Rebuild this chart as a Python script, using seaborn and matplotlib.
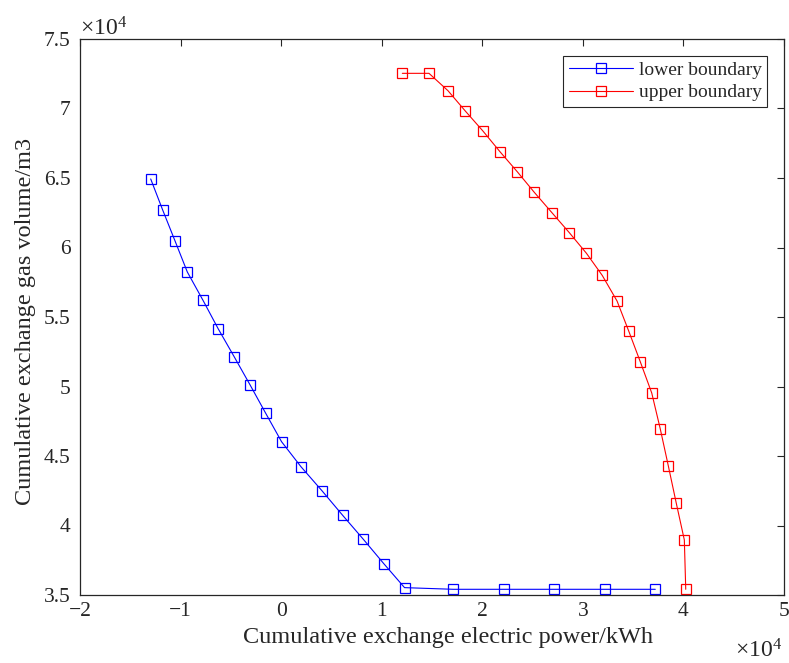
import numpy as np
import pandas as pd
import matplotlib
matplotlib.use("Agg")
import matplotlib.pyplot as plt
import seaborn as sns
from matplotlib.ticker import FuncFormatter, FixedLocator

# ---- data (real units) ----
lower_x = [-12970, -11780, -10550, -9330, -7770, -6250, -4660, -3070, -1540, 40,
           1970, 4060, 6120, 8170, 10200, 12270, 17120, 22160, 27160, 32200, 37200]
lower_y = [64930, 62700, 60470, 58240, 56200, 54140, 52130, 50090, 48080, 46030,
           44230, 42500, 40730, 39010, 37260, 35530, 35410, 35410, 35410, 35410, 35410]
upper_x = [12050, 14700, 16590, 18310, 20040, 21760, 23480, 25170, 26930, 28650,
           30360, 31930, 33400, 34560, 35710, 36850, 37700, 38500, 39290, 40090, 40230]
upper_y = [72530, 72530, 71280, 69820, 68400, 66890, 65450, 63970, 62500, 61070,
           59580, 57990, 56150, 53990, 51780, 49530, 46940, 44280, 41600, 38960, 35410]
series_names = ["lower boundary", "upper boundary"]
x_ticks = [-20000, -10000, 0, 10000, 20000, 30000, 40000, 50000]
y_ticks = [35000, 40000, 45000, 50000, 55000, 60000, 65000, 70000, 75000]
x_label = "Cumulative exchange electric power/kWh"
y_label = "Cumulative exchange gas volume/m3"

sns.set_theme(style="white")
plt.rcParams["font.family"] = ["Liberation Serif", "DejaVu Serif"]
plt.rcParams["mathtext.fontset"] = "custom"
plt.rcParams["mathtext.rm"] = "Liberation Serif"
plt.rcParams["mathtext.it"] = "Liberation Serif:italic"

df_low = pd.DataFrame({"x": lower_x, "y": lower_y})
df_up = pd.DataFrame({"x": upper_x, "y": upper_y})

fig = plt.figure(figsize=(7.89, 6.63), dpi=100)
ax = fig.add_axes([80/789, 1 - 595/663, (784-80)/789, (595-39)/663])

sns.lineplot(data=df_low, x="x", y="y", sort=False, ax=ax, color="#0000ff",
             marker="s", markersize=7.5, markerfacecolor="none", markeredgecolor="#0000ff",
             markeredgewidth=0.9, linewidth=0.8, label=series_names[0])
sns.lineplot(data=df_up, x="x", y="y", sort=False, ax=ax, color="#ff0000",
             marker="s", markersize=7.5, markerfacecolor="none", markeredgecolor="#ff0000",
             markeredgewidth=0.9, linewidth=0.8, label=series_names[1])

ax.set_xlim(-20000, 50000)
ax.set_ylim(35000, 75000)
ax.xaxis.set_major_locator(FixedLocator(x_ticks))
ax.yaxis.set_major_locator(FixedLocator(y_ticks))

def fmt(v, pos):
    s = "%g" % (v / 1e4)
    return s.replace("-", "\u2212")

ax.xaxis.set_major_formatter(FuncFormatter(fmt))
ax.yaxis.set_major_formatter(FuncFormatter(fmt))

for sp in ax.spines.values():
    sp.set_visible(True)
    sp.set_color("#262626")
    sp.set_linewidth(0.9)

ax.tick_params(direction="in", length=5, width=0.8, color="#262626",
               top=True, right=True, labelsize=15.5, labelcolor="#262626")
ax.tick_params(axis="y", pad=7)
ax.tick_params(axis="x", pad=5)

ax.set_xlabel(x_label, fontsize=17.5, color="#262626")
ax.set_ylabel(y_label, fontsize=17.5, color="#262626")
ax.xaxis.set_label_coords(0.523, -(638 - 595) / 556)
ax.xaxis.label.set_verticalalignment("center")
ax.yaxis.set_label_coords((26 - 80) / 704, (595 - 321) / 556)
ax.yaxis.label.set_verticalalignment("center")

ax.text(0.0, 1 + 4 / 556, r"$\times\mathregular{10^{4}}$", transform=ax.transAxes,
        fontsize=17, ha="left", va="baseline", color="#262626")
ax.text(0.997, -(658 - 595) / 556, r"$\times\mathregular{10^{4}}$", transform=ax.transAxes,
        fontsize=17, ha="right", va="baseline", color="#262626")

leg = ax.legend(loc="upper right", fontsize=14, frameon=True, fancybox=False,
                edgecolor="#262626", framealpha=1, borderpad=0.3,
                handlelength=3.3, handletextpad=0.3, labelspacing=0.25,
                borderaxespad=0.85)
leg.get_frame().set_linewidth(0.8)

fig.savefig("out.png", dpi=100)
